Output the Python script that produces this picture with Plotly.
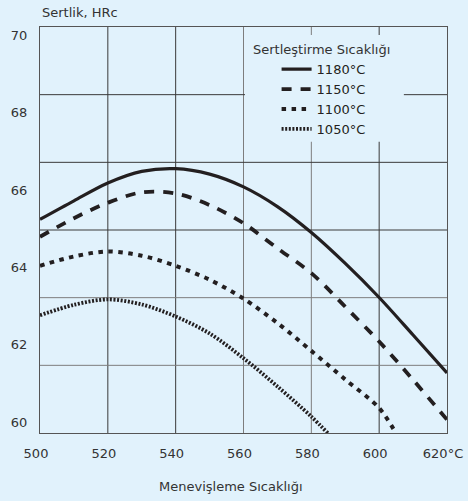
import plotly.graph_objects as go

# ---- data ----
series_names = ["1180°C", "1150°C", "1100°C", "1050°C"]

t_1180 = [500, 510, 520, 530, 540, 550, 560, 570, 580, 590, 600, 610, 620]
h_1180 = [65.24, 65.72, 66.18, 66.48, 66.55, 66.41, 66.08, 65.57, 64.90, 64.10, 63.22, 62.25, 61.27]

t_1150 = [500, 510, 520, 530, 540, 550, 560, 570, 580, 590, 600, 610, 620]
h_1150 = [64.79, 65.27, 65.67, 65.94, 65.91, 65.61, 65.14, 64.49, 63.85, 62.98, 62.08, 61.09, 60.06]

t_1100 = [500, 510, 520, 530, 540, 550, 560, 570, 580, 590, 600, 605]
h_1100 = [64.04, 64.28, 64.41, 64.30, 64.04, 63.68, 63.19, 62.56, 61.84, 61.10, 60.36, 59.70]

t_1050 = [500, 510, 520, 530, 540, 550, 560, 570, 580, 585]
h_1050 = [62.76, 63.03, 63.17, 63.04, 62.73, 62.29, 61.65, 60.92, 60.14, 59.70]

x_ticks = [500, 520, 540, 560, 580, 600, 620]
x_ticktext = ["500", "520", "540", "560", "580", "600", "620°C"]
y_ticks = [60, 62, 64, 66, 68, 70]

x_title = "Menevişleme Sıcaklığı"
y_title = "Sertlik, HRc"
legend_title = "Sertleştirme Sıcaklığı"

# ---- styling ----
BG = "#e1f2fc"
INK = "#231f20"
TXT = "#333333"
DARK = "#3a3a3a"
GREY = "#7d7d7d"

fig = go.Figure()
styles = [
    dict(width=3.2, dash="solid"),
    dict(width=3.8, dash="10px,9px"),
    dict(width=4.0, dash="4.5px,5.5px"),
    dict(width=3.8, dash="2px,1.6px"),
]
data = [(t_1180, h_1180), (t_1150, h_1150), (t_1100, h_1100), (t_1050, h_1050)]
for name, (tx, hy), st in zip(series_names, data, styles):
    fig.add_trace(go.Scatter(
        x=tx, y=hy, name=name, mode="lines",
        line=dict(color=INK, width=st["width"], dash=st["dash"], shape="spline", smoothing=0.9),
    ))

shapes = []
# vertical gridlines
v_colors = {520: DARK, 540: DARK, 560: GREY, 580: GREY, 600: DARK}
for xv, c in v_colors.items():
    shapes.append(dict(type="line", xref="x", yref="paper", x0=xv, x1=xv, y0=0, y1=1,
                       line=dict(color=c, width=1), layer="below"))
# horizontal gridlines: plot divided into six equal bands
h_colors = [GREY, GREY, DARK, DARK, DARK]
for k, c in zip(range(1, 6), h_colors):
    shapes.append(dict(type="line", xref="paper", yref="paper", x0=0, x1=1, y0=k / 6, y1=k / 6,
                       line=dict(color=c, width=1), layer="below"))
# legend panel covering the grid
shapes.append(dict(type="rect", xref="paper", yref="paper", x0=0.5037, x1=0.894, y0=0.7175, y1=0.980,
                   fillcolor=BG, line=dict(width=0), layer="below"))

fig.update_layout(
    width=468, height=501,
    margin=dict(l=40, r=21, t=27, b=68, autoexpand=False),
    paper_bgcolor=BG, plot_bgcolor=BG,
    font=dict(family="DejaVu Sans, Verdana, sans-serif", size=13, color=TXT),
    showlegend=True,
    legend=dict(x=0.5813, y=0.933, xanchor="left", yanchor="top", bgcolor="rgba(0,0,0,0)",
                borderwidth=0, font=dict(size=13, color=INK), traceorder="normal"),
    shapes=shapes,
    xaxis=dict(range=[500, 620], tickvals=x_ticks, ticktext=x_ticktext, showgrid=False, zeroline=False,
               showline=True, mirror=True, linecolor="#555555", linewidth=1, ticks="",
               ticklabelshift=-4, ticklabelstandoff=8, automargin=False),
    yaxis=dict(range=[59.716, 70.214], tickvals=y_ticks, showgrid=False, zeroline=False,
               showline=True, mirror=True, linecolor="#555555", linewidth=1, ticks="",
               ticklabelstandoff=9, automargin=False),
    annotations=[
        dict(text=y_title, xref="paper", yref="paper", x=0, y=1, xanchor="left", yanchor="middle",
             yshift=14.7, showarrow=False, font=dict(size=13, color=TXT)),
        dict(text=x_title, xref="paper", yref="paper", x=0.4705, y=0, xanchor="center", yanchor="middle",
             yshift=-53.4, showarrow=False, font=dict(size=13, color=TXT)),
        dict(text=legend_title, xref="paper", yref="paper", x=0.5177, y=1, xanchor="left", yanchor="middle",
             yshift=-22, showarrow=False, font=dict(size=13, color=TXT)),
    ],
)

fig.write_html("out.html", config={"displayModeBar": False},
               post_script="document.body.style.margin='0';document.body.style.background='" + BG + "';")
